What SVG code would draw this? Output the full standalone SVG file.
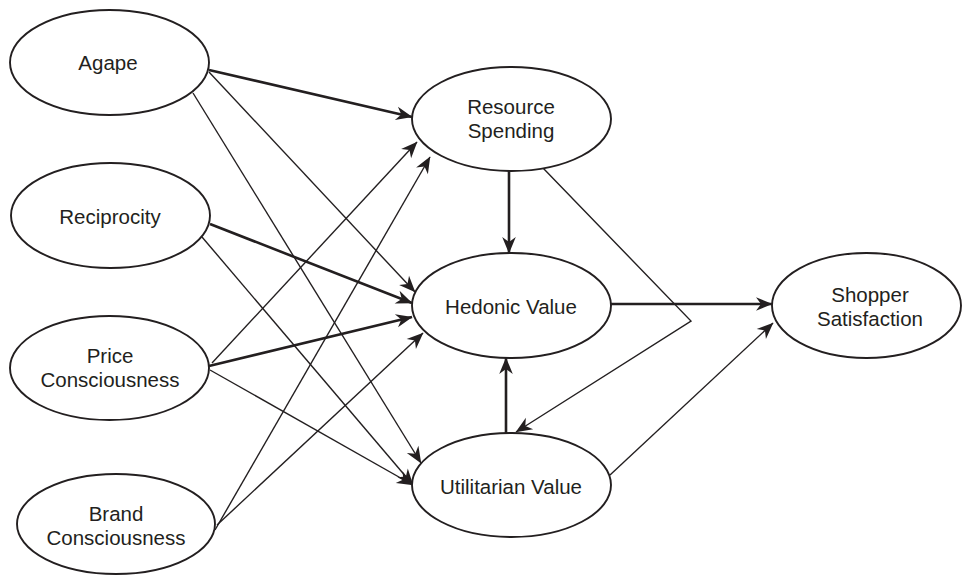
<svg xmlns="http://www.w3.org/2000/svg" width="963" height="575" viewBox="0 0 963 575">
<style>
  .node ellipse { fill: #ffffff; stroke: #231f20; stroke-width: 1.9; }
  .node text { font-family: "Liberation Sans", Arial, sans-serif; font-size: 20.5px; fill: #231f20; text-anchor: middle; }
  .edge { fill: none; stroke: #231f20; }
  .thick { stroke-width: 2.6; marker-end: url(#arrow); }
  .thin { stroke-width: 1.4; marker-end: url(#arrow); }
</style>
<defs>
  <marker id="arrow" markerUnits="userSpaceOnUse" viewBox="-18 -8 19 16" refX="0" refY="0" markerWidth="19" markerHeight="16" orient="auto">
    <path d="M0.5,0 L-16,-6.8 L-11,0 L-16,6.8 Z" fill="#231f20"/>
  </marker>
</defs>
<rect width="963" height="575" fill="#ffffff"/>
<g id="connectors">
  <path class="edge thick" d="M209,70 L412,117"/>
  <path class="edge thick" d="M210,224 L412,303"/>
  <path class="edge thick" d="M209,366 L412,317"/>
  <path class="edge thick" d="M509,171 L509,253"/>
  <path class="edge thick" d="M506,433 L506,358"/>
  <path class="edge thick" d="M611,304 L772,304"/>
  <path class="edge thin" d="M209,72 L415,292"/>
  <path class="edge thin" d="M193,93 L421,463"/>
  <path class="edge thin" d="M202,237 L413,485"/>
  <path class="edge thin" d="M212,363 L417,142"/>
  <path class="edge thin" d="M210,370 L413,485"/>
  <path class="edge thin" d="M215,530 L430,157"/>
  <path class="edge thin" d="M217,525 L423,333"/>
  <path class="edge thin" d="M543,168 L691,321 L516,432"/>
  <path class="edge thin" d="M610,475 L773,323"/>
</g>
<g id="agape" class="node">
  <ellipse cx="109.5" cy="62.5" rx="99.5" ry="52.5"/>
  <text x="108" y="70">Agape</text>
</g>
<g id="reciprocity" class="node">
  <ellipse cx="110.5" cy="215.5" rx="99.5" ry="52.5"/>
  <text x="110" y="224">Reciprocity</text>
</g>
<g id="price-consciousness" class="node">
  <ellipse cx="109.5" cy="368" rx="99.5" ry="52"/>
  <text x="110" y="363">Price</text>
  <text x="110" y="387">Consciousness</text>
</g>
<g id="brand-consciousness" class="node">
  <ellipse cx="116" cy="524" rx="99" ry="50"/>
  <text x="116" y="521">Brand</text>
  <text x="116" y="545">Consciousness</text>
</g>
<g id="resource-spending" class="node">
  <ellipse cx="511.5" cy="119" rx="99.5" ry="52"/>
  <text x="511" y="114">Resource</text>
  <text x="511" y="138">Spending</text>
</g>
<g id="hedonic-value" class="node">
  <ellipse cx="511.5" cy="305.5" rx="99.5" ry="52.5"/>
  <text x="511" y="314">Hedonic Value</text>
</g>
<g id="utilitarian-value" class="node">
  <ellipse cx="511.5" cy="485" rx="99.5" ry="52"/>
  <text x="511" y="494">Utilitarian Value</text>
</g>
<g id="shopper-satisfaction" class="node">
  <ellipse cx="866.5" cy="305.5" rx="94.5" ry="52.5"/>
  <text x="870" y="302">Shopper</text>
  <text x="870" y="326">Satisfaction</text>
</g>
</svg>
